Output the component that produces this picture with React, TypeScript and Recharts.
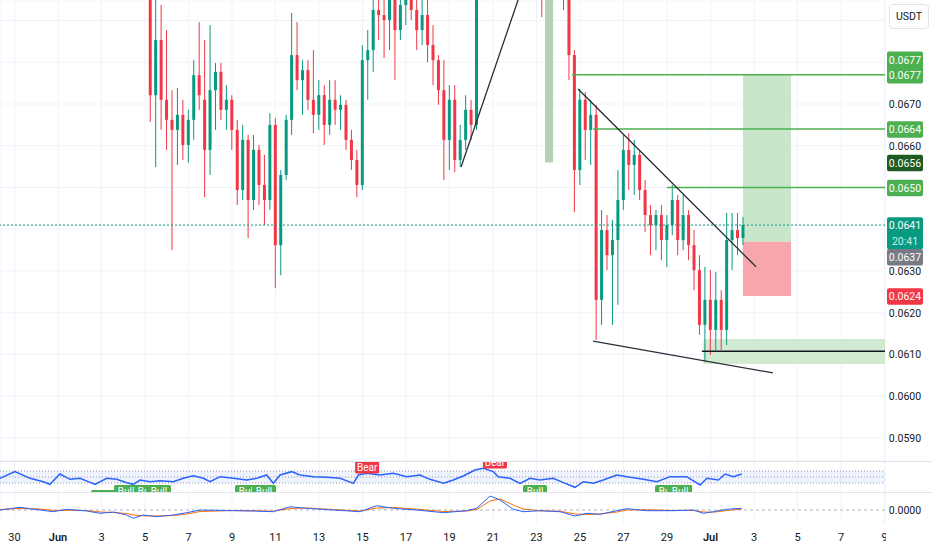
import {
  ComposedChart,
  Bar,
  Line,
  Scatter,
  XAxis,
  YAxis,
  CartesianGrid,
  ReferenceLine,
  ReferenceArea,
} from 'recharts';

// time axis in days, 0 = Jun 1
const dayMin = -2.667;
const dayMax = 38.02;
const dayTicks = [-2, 0, 2, 4, 6, 8, 10, 12, 14, 16, 18, 20, 22, 24, 26, 28, 30, 32, 34, 36, 38];
const dayTickLabels = ['30', 'Jun', '3', '5', '7', '9', '11', '13', '15', '17', '19', '21', '23', '25', '27', '29', 'Jul', '3', '5', '7', '9'];
const monthLabels = ['Jun', 'Jul'];

const priceMin = 0.05845;
const priceMax = 0.06949;
const priceTicks = [0.059, 0.06, 0.061, 0.062, 0.063, 0.064, 0.065, 0.066, 0.067, 0.068, 0.069];
const coveredTicks = [0.064, 0.065, 0.068, 0.069];

// 6h candles starting Jun 5 06:00  [open, high, low, close]
const candleStart = 4.25;
const candleStep = 0.25;
const ohlc: [number, number, number, number][] = [
  [0.06973, 0.07009, 0.06657, 0.06721], [0.06721, 0.06949, 0.06549, 0.06853], [0.06853, 0.06937, 0.06638, 0.0671],
  [0.0671, 0.06877, 0.0659, 0.06662], [0.06662, 0.06733, 0.0635, 0.06638], [0.06638, 0.06738, 0.06554, 0.06674],
  [0.06674, 0.0671, 0.06566, 0.06602], [0.06602, 0.06686, 0.06559, 0.06662], [0.06662, 0.06805, 0.06614, 0.06769],
  [0.06769, 0.06896, 0.06686, 0.06721], [0.0671, 0.06853, 0.06477, 0.0659], [0.0659, 0.06889, 0.0653, 0.06733],
  [0.06733, 0.06798, 0.06638, 0.06777], [0.06777, 0.06798, 0.06662, 0.06686], [0.06686, 0.06745, 0.06638, 0.0671],
  [0.0671, 0.06721, 0.0659, 0.06638], [0.06638, 0.06662, 0.06458, 0.06494], [0.06494, 0.0665, 0.0647, 0.06614],
  [0.06614, 0.06626, 0.06379, 0.0647], [0.0647, 0.06626, 0.06446, 0.0659], [0.0659, 0.06602, 0.06458, 0.06506],
  [0.06506, 0.06578, 0.0641, 0.0647], [0.0647, 0.06678, 0.06446, 0.0665], [0.0665, 0.06666, 0.06259, 0.06362],
  [0.06362, 0.06542, 0.0629, 0.0653], [0.0653, 0.06674, 0.06518, 0.06662], [0.06662, 0.06918, 0.06626, 0.06817],
  [0.06817, 0.06896, 0.06733, 0.06757], [0.06757, 0.06805, 0.06674, 0.06781], [0.06781, 0.06805, 0.06686, 0.0671],
  [0.0671, 0.06829, 0.0663, 0.06674], [0.06674, 0.06757, 0.06638, 0.06721], [0.06721, 0.06745, 0.06602, 0.0665],
  [0.0665, 0.06757, 0.06626, 0.0671], [0.0671, 0.06757, 0.0665, 0.06686], [0.06686, 0.06721, 0.06638, 0.06698],
  [0.06698, 0.0671, 0.0659, 0.06614], [0.06614, 0.06638, 0.06542, 0.06566], [0.06566, 0.0659, 0.06477, 0.06506],
  [0.06506, 0.06841, 0.06494, 0.06805], [0.06805, 0.06877, 0.0671, 0.06829], [0.06829, 0.06973, 0.06777, 0.06925],
  [0.06925, 0.06997, 0.06853, 0.06913], [0.06913, 0.06985, 0.0681, 0.06901], [0.06901, 0.06973, 0.06829, 0.06949],
  [0.06949, 0.06997, 0.06757, 0.06877], [0.06877, 0.06973, 0.06853, 0.06937], [0.06937, 0.07009, 0.06889, 0.06961],
  [0.06961, 0.06997, 0.06901, 0.06925], [0.06925, 0.06985, 0.06829, 0.06877], [0.06877, 0.06949, 0.06841, 0.06913],
  [0.06913, 0.06949, 0.068, 0.06841], [0.06841, 0.06889, 0.06745, 0.06805], [0.06805, 0.06817, 0.06698, 0.06733],
  [0.06733, 0.06805, 0.06518, 0.06614], [0.06614, 0.06745, 0.06542, 0.0671], [0.0671, 0.06745, 0.06537, 0.06566],
  [0.06566, 0.0665, 0.06549, 0.06614], [0.06614, 0.06721, 0.0659, 0.06686], [0.06686, 0.0671, 0.06614, 0.0665],
  [0.0665, 0.06997, 0.06638, 0.06973], [0.06973, 0.07093, 0.06961, 0.07069], [0.07069, 0.07189, 0.07045, 0.07165],
  [0.07165, 0.0726, 0.07141, 0.07212], [0.07212, 0.07308, 0.07189, 0.07284], [0.07284, 0.07332, 0.07189, 0.07236],
  [0.07236, 0.07284, 0.07141, 0.07165], [0.07165, 0.07212, 0.07093, 0.07117], [0.07117, 0.07189, 0.07069, 0.07141],
  [0.07141, 0.07165, 0.07045, 0.07069], [0.07069, 0.07117, 0.06997, 0.07021], [0.07021, 0.07093, 0.06973, 0.06997],
  [0.06997, 0.07045, 0.06908, 0.06961], [0.06961, 0.07045, 0.06956, 0.07021], [0.07021, 0.07069, 0.06973, 0.06997],
  [0.06997, 0.07057, 0.06961, 0.07009], [0.07009, 0.07045, 0.06925, 0.06949], [0.06949, 0.06973, 0.06757, 0.06817],
  [0.06817, 0.06829, 0.06441, 0.06542], [0.06542, 0.06736, 0.06506, 0.0671], [0.0671, 0.06729, 0.06566, 0.06638],
  [0.06638, 0.0671, 0.06554, 0.06674], [0.06674, 0.06698, 0.06135, 0.06231], [0.06231, 0.06446, 0.06171, 0.06398],
  [0.06398, 0.06434, 0.06302, 0.06338], [0.06338, 0.06422, 0.06171, 0.06374], [0.06374, 0.06542, 0.06219, 0.0647],
  [0.0647, 0.06626, 0.06446, 0.0659], [0.0659, 0.0663, 0.06494, 0.06554], [0.06554, 0.06614, 0.06482, 0.06578],
  [0.06578, 0.0659, 0.0647, 0.06494], [0.06494, 0.06518, 0.06393, 0.06434], [0.06434, 0.06458, 0.06338, 0.0641],
  [0.0641, 0.06446, 0.0635, 0.06434], [0.06434, 0.06458, 0.06326, 0.06374], [0.06374, 0.06434, 0.0631, 0.0641],
  [0.0641, 0.06506, 0.06386, 0.0647], [0.0647, 0.06482, 0.06338, 0.06374], [0.06374, 0.06482, 0.0635, 0.06434],
  [0.06434, 0.06446, 0.06326, 0.06362], [0.06362, 0.06398, 0.06254, 0.06302], [0.06302, 0.06338, 0.06147, 0.06171],
  [0.06171, 0.0631, 0.06082, 0.06231], [0.06231, 0.06302, 0.06099, 0.06159], [0.06159, 0.06298, 0.06111, 0.06231],
  [0.06231, 0.06254, 0.06111, 0.06159], [0.06159, 0.06439, 0.06123, 0.06374], [0.06374, 0.06439, 0.06302, 0.06398],
  [0.06398, 0.06439, 0.06338, 0.06379], [0.06379, 0.06429, 0.06362, 0.0641],
];

// drawings: [day1, price1, day2, price2]
const trendLines: [number, number, number, number][] = [
  [18.53, 0.06549, 21.15, 0.06949],
  [23.91, 0.06736, 32.09, 0.0631],
  [24.6, 0.06132, 32.87, 0.06056],
];
const targetPrices = [0.0677, 0.0664, 0.065];
const targetFrom = [23.63, 24.6, 28.0];
const supportPrice = 0.06108;
const supportFrom = 29.6;
const zoneFrom = 29.67;
const zoneLow = 0.06077;
const zoneHigh = 0.06137;
const positionFrom = 31.49;
const positionTo = 33.7;
const entryPrice = 0.0637;
const takeProfit = 0.0677;
const stopLoss = 0.0624;
const markerFrom = 22.39;
const markerTo = 22.76;
const markerPrice = 0.0656;
const lastPrice = 0.0641;

const priceTags = [
  { price: 0.0677, rows: ['0.0677', '0.0677'], at: 1, bg: '#4caf50' },
  { price: 0.0664, rows: ['0.0664'], at: 0, bg: '#4caf50' },
  { price: 0.0656, rows: ['0.0656'], at: 0, bg: '#1e5a22' },
  { price: 0.065, rows: ['0.0650'], at: 0, bg: '#4caf50' },
  { price: 0.0641, rows: ['0.0641', '20:41'], at: 0, bg: '#089981' },
  { price: 0.0637, rows: ['0.0637'], at: 0, bg: '#787b86' },
  { price: 0.0624, rows: ['0.0624'], at: 0, bg: '#f23645' },
];
// tags pushed down by the one above them
const tagNudge: Record<string, number> = { '0.0637': 15 };

// oscillator pane: [day, value]
const rsiLine: [number, number][] = [
  [-2.67, 45.6], [-1.98, 67.8], [-1.29, 45.6], [-0.68, 34.4], [-0.37, 25.6], [0.09, 60], [0.55, 42.2],
  [1.01, 45.6], [1.47, 32.2], [1.7, 25.6], [2.24, 45.6], [2.7, 42.2], [3.16, 31.1], [3.46, 25.6],
  [3.77, 40], [4.23, 34.4], [4.69, 37.8], [5.3, 34.4], [5.76, 45.6], [6.22, 54.4], [6.68, 45.6],
  [6.99, 34.4], [7.45, 51.1], [8.06, 45.6], [8.67, 40], [9.14, 45.6], [9.59, 56.7], [9.9, 28.9],
  [10.21, 56.7], [10.74, 67.8], [11.13, 56.7], [11.74, 51.1], [12.35, 48.9], [12.97, 45.6], [13.58, 28.9],
  [13.81, 56.7], [14.19, 62.2], [14.8, 56.7], [15.42, 62.2], [16.03, 51.1], [16.64, 56.7], [17.1, 42.2],
  [17.72, 28.9], [18.17, 40], [18.63, 53.3], [19.17, 73.3], [19.55, 78.9], [20.01, 67.8], [20.24, 51.1],
  [20.78, 45.6], [21.24, 28.9], [21.7, 45.6], [22.16, 40], [22.77, 45.6], [23.23, 31.1], [23.77, 15.6],
  [24.15, 34.4], [24.61, 28.9], [25.07, 40], [25.69, 56.7], [26.3, 48.9], [26.91, 42.2], [27.53, 34.4],
  [28.14, 51.1], [28.9, 51.1], [29.52, 23.3], [29.83, 45.6], [30.36, 40], [30.67, 60], [31.05, 51.1],
  [31.43, 60],
];
const signalDays = [2.07, 3.13, 4.05, 4.64, 8.69, 9.47, 14.21, 20.09, 21.93, 28.0, 28.6];
const signalKinds = ['Bull', 'Bull', 'Bull', 'Bull', 'Bull', 'Bull', 'Bear', 'Bear', 'Bull', 'Bull', 'Bull'];
const signalLevels = [-13, 3.3, 3.3, 3.3, 3.3, 3.3, 81.7, 98.3, 3.3, 3.3, 3.3];

// macd pane: [day, macd, signal]
const macdLine: [number, number, number][] = [
  [-2.67, 0, 0.00005], [-1.75, 0.00027, 0.00015], [-0.83, 0, 0.0001], [-0.22, -0.00017, -0.00005],
  [0.4, 0.00007, -0.00003], [1.32, -0.0001, -0.00005], [1.93, -0.00033, -0.0002], [2.54, -0.0002, -0.00025],
  [3.16, -0.0005, -0.00035], [3.46, -0.00083, -0.0005], [3.92, -0.0005, -0.00058], [4.54, -0.00067, -0.0006],
  [5.3, -0.0005, -0.00055], [5.92, -0.00027, -0.0004], [6.53, 0, -0.00015], [8.06, -0.00007, -0.00005],
  [8.98, -0.0001, -0.00008], [9.9, -0.00017, -0.00012], [10.67, 0.00033, 0.00015], [11.43, 0.00017, 0.0002],
  [12.66, 0, 0.00005], [13.89, -0.00017, -0.0001], [14.65, 0.00043, 0.0002], [15.42, 0.00017, 0.00025],
  [16.49, 0, 0.00008], [17.72, -0.00027, -0.00015], [18.79, -0.00007, -0.0001], [19.25, 0.00017, 0.00005],
  [19.86, 0.0014, 0.0009], [20.32, 0.001, 0.0011], [20.93, 0.00007, 0.0005], [21.39, -0.00017, 0.0001],
  [22.16, -0.00007, -0.00008], [23.08, -0.00017, -0.00012], [23.77, -0.0006, -0.0004], [24.31, -0.00033, -0.00045],
  [24.92, -0.00043, -0.0004], [25.69, -0.00007, -0.0002], [26.15, 0.00013, 0], [27.07, -0.00007, 0.00003],
  [28.29, -0.00007, -0.00005], [29.21, 0, -0.00003], [29.67, -0.00033, -0.0002], [30.13, -0.00017, -0.00022],
  [30.74, 0.00007, -0.00005], [31.43, 0.00017, 0.0001],
];

const UP = '#089981';
const DOWN = '#f23645';
const GRID = '#f0f3fa';
const TEXT = '#131722';

const Candle = (props: any) => {
  const { x, y, width, height, payload } = props;
  const { o, h, l, c } = payload;
  const color = c >= o ? UP : DOWN;
  const top = Math.min(y, y + height);
  const bot = Math.max(y, y + height);
  const k = (bot - top) / (h - l);
  const bodyTop = top + (h - Math.max(o, c)) * k;
  const bodyBot = top + (h - Math.min(o, c)) * k;
  const cx = x + width / 2;
  return (
    <g>
      <line x1={cx} x2={cx} y1={top} y2={bot} stroke={color} strokeWidth={1} />
      <rect x={x} y={bodyTop} width={width} height={Math.max(1, bodyBot - bodyTop)} fill={color} />
    </g>
  );
};

const PriceTick = (props: any) => {
  const { x, y, payload } = props;
  if (coveredTicks.some((v) => Math.abs(v - payload.value) < 1e-7)) return <g />;
  return (
    <text x={x + 20} y={y} dy={3.8} textAnchor="middle" fontSize={10.5} fill={TEXT}>
      {payload.value.toFixed(4)}
    </text>
  );
};

const PriceTag = (props: any) => {
  const { viewBox, rows, at, bg } = props;
  if (!viewBox) return null;
  const rowH = 15.5;
  const left = viewBox.x + viewBox.width + 2;
  const top = viewBox.y - rowH / 2 - at * rowH + (tagNudge[rows[0]] || 0);
  return (
    <g>
      <rect x={left} y={top} width={36} height={rowH * rows.length + 1} rx={2} fill={bg} />
      {rows.map((r: string, k: number) => (
        <text
          key={k}
          x={left + 18}
          y={top + rowH * k + rowH / 2 + 4.3}
          textAnchor="middle"
          fontSize={10.5}
          fill={at === 0 && k > 0 ? '#cdeee8' : '#ffffff'}
        >
          {r}
        </text>
      ))}
    </g>
  );
};

const AxisNote = (props: any) => {
  const { viewBox, text } = props;
  if (!viewBox) return null;
  return (
    <text x={viewBox.x + viewBox.width + 20} y={viewBox.y} dy={3.8} textAnchor="middle" fontSize={10.5} fill={TEXT}>
      {text}
    </text>
  );
};

const SignalTag = (props: any) => {
  const { cx, cy, payload } = props;
  const bull = payload.kind === 'Bull';
  return (
    <g>
      <rect x={cx - 12} y={cy - 6} width={24} height={12} rx={1.5} fill={bull ? '#4caf50' : '#f23645'} />
      <text x={cx} y={cy + 3.6} textAnchor="middle" fontSize={10} fill="#ffffff">
        {payload.kind}
      </text>
    </g>
  );
};

const DayTick = (props: any) => {
  const { x, y, payload } = props;
  const label = dayTickLabels[dayTicks.indexOf(payload.value)] ?? '';
  return (
    <text x={x} y={y} dy="0.71em" textAnchor="middle" fontSize={11} fill={TEXT} fontWeight={monthLabels.includes(label) ? 600 : 400}>
      {label}
    </text>
  );
};

export default function App() {
  const candleRows = ohlc.map(([o, h, l, c], i) => ({
    t: candleStart + i * candleStep,
    o,
    h,
    l,
    c,
    range: [l, h],
  }));
  const rsiRows = rsiLine.map(([t, v]) => ({ t, v }));
  const signalRows = signalDays.map((t, i) => ({ t, v: signalLevels[i], kind: signalKinds[i] }));
  const macdRows = macdLine.map(([t, m, s]) => ({ t, m, s }));

  return (
    <div
      style={{
        position: 'absolute',
        left: 0,
        top: 0,
        width: 932,
        height: 550,
        background: '#ffffff',
        overflow: 'hidden',
        fontFamily: 'Roboto, "Noto Sans", sans-serif',
        color: TEXT,
      }}
    >
      {/* price pane */}
      <div style={{ position: 'absolute', left: 0, top: 0 }}>
        <ComposedChart width={932} height={461} data={candleRows} margin={{ top: 0, right: 0, bottom: 0, left: 0 }}>
          <CartesianGrid stroke={GRID} />
          <XAxis dataKey="t" type="number" domain={[dayMin, dayMax]} ticks={dayTicks} allowDataOverflow hide />
          <YAxis
            type="number"
            orientation="right"
            width={47}
            domain={[priceMin, priceMax]}
            ticks={priceTicks}
            interval={0}
            allowDataOverflow
            axisLine={false}
            tickLine={false}
            tickSize={0}
            tickMargin={0}
            tick={PriceTick}
          />
          <ReferenceArea x1={markerFrom} x2={markerTo} y1={markerPrice} y2={priceMax} fill="#b4d3b2" fillOpacity={1} stroke="none" ifOverflow="hidden" />
          <ReferenceArea x1={zoneFrom} x2={dayMax} y1={zoneLow} y2={zoneHigh} fill="#d2ead2" fillOpacity={1} stroke="none" ifOverflow="hidden" />
          <ReferenceArea x1={positionFrom} x2={positionTo} y1={entryPrice} y2={takeProfit} fill="#c8e6c9" fillOpacity={1} stroke="none" ifOverflow="hidden" />
          <ReferenceArea x1={positionFrom} x2={positionTo} y1={stopLoss} y2={entryPrice} fill="#f7a6ac" fillOpacity={1} stroke="none" ifOverflow="hidden" />
          <ReferenceLine y={lastPrice} stroke={UP} strokeDasharray="2 2" strokeWidth={1} ifOverflow="visible" />
          <Bar dataKey="range" barSize={3} shape={Candle} isAnimationActive={false} />
          {targetPrices.map((p, i) => (
            <ReferenceLine
              key={'tp' + i}
              segment={[{ x: targetFrom[i], y: p }, { x: dayMax, y: p }]}
              stroke="#4caf50"
              strokeWidth={1.5}
              ifOverflow="visible"
            />
          ))}
          <ReferenceLine
            segment={[{ x: supportFrom, y: supportPrice }, { x: dayMax, y: supportPrice }]}
            stroke={TEXT}
            strokeWidth={1.5}
            ifOverflow="visible"
          />
          {trendLines.map(([d1, p1, d2, p2], i) => (
            <ReferenceLine
              key={'tl' + i}
              segment={[{ x: d1, y: p1 }, { x: d2, y: p2 }]}
              stroke="#2a2e39"
              strokeWidth={1.3}
              ifOverflow="visible"
            />
          ))}
          {priceTags.map((tag) => (
            <ReferenceLine
              key={'tag' + tag.rows[0] + tag.bg}
              y={tag.price}
              stroke="none"
              ifOverflow="visible"
              label={<PriceTag rows={tag.rows} at={tag.at} bg={tag.bg} />}
            />
          ))}
        </ComposedChart>
      </div>

      <div style={{ position: 'absolute', left: 0, top: 461, width: 932, height: 1, background: '#e0e3eb' }} />

      {/* oscillator pane */}
      <div style={{ position: 'absolute', left: 0, top: 462 }}>
        <ComposedChart width={932} height={30} data={rsiRows} margin={{ top: 0, right: 47, bottom: 0, left: 0 }}>
          <CartesianGrid stroke={GRID} horizontal={false} />
          <XAxis dataKey="t" type="number" domain={[dayMin, dayMax]} ticks={dayTicks} allowDataOverflow hide />
          <YAxis type="number" domain={[0, 100]} allowDataOverflow hide />
          <ReferenceArea y1={30} y2={70} fill="#2962ff" fillOpacity={0.08} stroke="none" />
          <ReferenceLine y={70} stroke="#9598a1" strokeDasharray="1 2" />
          <ReferenceLine y={50} stroke="#9598a1" strokeDasharray="1 2" />
          <ReferenceLine y={30} stroke="#9598a1" strokeDasharray="1 2" />
          <Line dataKey="v" type="linear" stroke="#2962ff" strokeWidth={1.5} dot={false} isAnimationActive={false} />
          <Scatter data={signalRows} dataKey="v" shape={SignalTag} isAnimationActive={false} />
        </ComposedChart>
      </div>

      <div style={{ position: 'absolute', left: 0, top: 492, width: 932, height: 1, background: '#e0e3eb' }} />

      {/* macd pane + time axis */}
      <div style={{ position: 'absolute', left: 0, top: 493 }}>
        <ComposedChart width={932} height={57} data={macdRows} margin={{ top: 0, right: 47, bottom: 0, left: 0 }}>
          <CartesianGrid stroke={GRID} horizontal={false} />
          <XAxis
            dataKey="t"
            type="number"
            domain={[dayMin, dayMax]}
            ticks={dayTicks}
            interval={0}
            allowDataOverflow
            height={27}
            axisLine={false}
            tickLine={false}
            tickMargin={4}
            tick={DayTick}
          />
          <YAxis type="number" domain={[-0.0013, 0.0017]} allowDataOverflow hide />
          <ReferenceLine y={0} stroke="#b2b5be" strokeDasharray="3 3" label={<AxisNote text="0.0000" />} ifOverflow="visible" />
          <Line dataKey="s" type="linear" stroke="#ff6d00" strokeWidth={1} dot={false} isAnimationActive={false} />
          <Line dataKey="m" type="linear" stroke="#2962ff" strokeWidth={1} dot={false} isAnimationActive={false} />
        </ComposedChart>
      </div>

      <div style={{ position: 'absolute', left: 886, top: 523, width: 46, height: 27, background: '#ffffff' }} />

      <div
        style={{
          position: 'absolute',
          left: 889,
          top: 4,
          width: 40,
          height: 25,
          boxSizing: 'border-box',
          border: '1px solid #e0e3eb',
          borderRadius: 4,
          background: '#ffffff',
          fontSize: 10.5,
          lineHeight: '23px',
          textAlign: 'center',
          color: TEXT,
        }}
      >
        USDT
      </div>
    </div>
  );
}
